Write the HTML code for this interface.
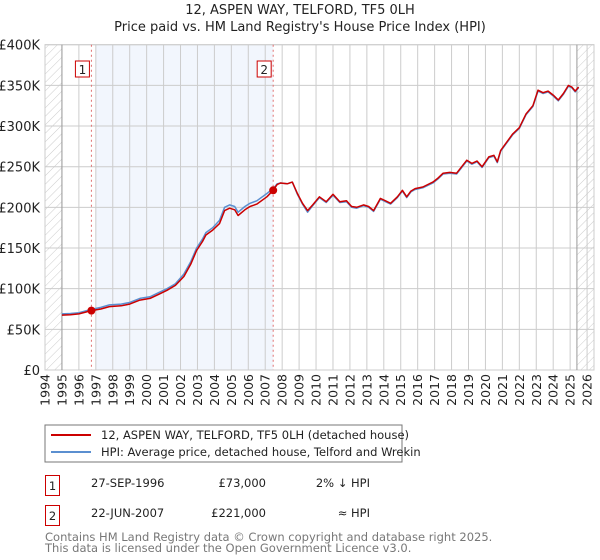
<!DOCTYPE html>
<html><head><meta charset="utf-8"><style>
body{margin:0;background:#fff;font-family:"DejaVu Sans","Liberation Sans",sans-serif;}
svg{display:block}
</style></head><body>
<svg id="c" width="600" height="560" xmlns="http://www.w3.org/2000/svg" font-family="DejaVu Sans, Liberation Sans, sans-serif">
<defs><pattern id="hatch" width="6" height="6" patternUnits="userSpaceOnUse" patternTransform="rotate(45)"><line x1="0" y1="0" x2="0" y2="6" stroke="#ccc" stroke-width="1"/></pattern></defs>
<text x="300" y="14" text-anchor="middle" font-size="13" fill="#222">12, ASPEN WAY, TELFORD, TF5 0LH</text>
<text x="300" y="31" text-anchor="middle" font-size="13" fill="#222">Price paid vs. HM Land Registry's House Price Index (HPI)</text>
<g id="plot"></g>
<g>
<rect x="45" y="425" width="357" height="37" fill="#fff" stroke="#777"/>
<line x1="51" y1="435" x2="91" y2="435" stroke="#cc0000" stroke-width="2"/>
<text x="101" y="439" font-size="11.5" fill="#222">12, ASPEN WAY, TELFORD, TF5 0LH (detached house)</text>
<line x1="51" y1="452" x2="91" y2="452" stroke="#5b8fd0" stroke-width="2"/>
<text x="101" y="456" font-size="11.5" fill="#222">HPI: Average price, detached house, Telford and Wrekin</text>
</g>
<g font-size="11.5" fill="#222">
<rect x="45.5" y="475.5" width="14" height="20" fill="#fff" stroke="#cc0000"/>
<text x="52.5" y="490" text-anchor="middle">1</text>
<text x="91" y="487">27-SEP-1996</text>
<text x="266" y="487" text-anchor="end">£73,000</text>
<text x="370" y="487" text-anchor="end">2% ↓ HPI</text>
<rect x="45.5" y="505.5" width="14" height="20" fill="#fff" stroke="#cc0000"/>
<text x="52.5" y="520" text-anchor="middle">2</text>
<text x="91" y="517">22-JUN-2007</text>
<text x="266" y="517" text-anchor="end">£221,000</text>
<text x="370" y="517" text-anchor="end">≈ HPI</text>
</g>
<text x="45" y="541" font-size="11.5" fill="#777">Contains HM Land Registry data © Crown copyright and database right 2025.</text>
<text x="45" y="552" font-size="11.5" fill="#777">This data is licensed under the Open Government Licence v3.0.</text>
</svg>
<script>
const years=[1995.0,1995.5,1996.0,1996.74,1997.3,1997.8,1998.5,1999.0,1999.6,2000.2,2000.7,2001.2,2001.7,2002.2,2002.6,2002.95,2003.3,2003.5,2003.9,2004.3,2004.6,2004.9,2005.2,2005.4,2005.8,2006.1,2006.5,2007.1,2007.47,2007.7,2007.9,2008.3,2008.6,2008.9,2009.2,2009.5,2009.8,2010.2,2010.6,2011.0,2011.4,2011.8,2012.1,2012.4,2012.8,2013.1,2013.4,2013.8,2014.1,2014.4,2014.8,2015.1,2015.35,2015.6,2015.85,2016.3,2016.9,2017.2,2017.5,2017.9,2018.3,2018.6,2018.9,2019.2,2019.5,2019.8,2020.2,2020.5,2020.7,2020.9,2021.25,2021.6,2022.0,2022.4,2022.8,2023.1,2023.4,2023.7,2024.0,2024.3,2024.6,2024.9,2025.1,2025.3,2025.5];
const priceValues=[67500,68000,69000,73000,75000,78000,79000,81000,86000,88000,93000,98000,104000,115000,130000,147000,158000,166000,172000,180000,196000,199000,197000,190000,197000,201000,204000,213000,221000,228000,230000,229000,231000,217000,205000,196000,203000,213000,207000,216000,207000,208000,201000,200000,203000,201000,196000,211000,208000,205000,213000,221000,213000,220000,223000,225000,231000,236000,242000,243000,242000,250000,258000,254000,257000,250000,262000,264000,256000,270000,280000,290000,298000,315000,325000,344000,341000,343000,338000,332000,340000,350000,348000,343000,348000];
const hpiValues=[69000,69500,70500,74500,77000,80000,81000,83000,88000,90000,95000,100000,106000,118000,133000,150000,161000,169000,175000,184000,200000,203000,201000,194000,201000,205000,208000,217000,223000,229000,230000,229000,231000,216000,204000,194000,202000,212000,206000,215000,206000,207000,200000,199000,202000,200000,195000,210000,207000,204000,212000,220000,212000,219000,222000,224000,230000,235000,241000,242000,241000,249000,257000,253000,256000,249000,261000,263000,255000,269000,279000,289000,297000,314000,324000,343000,340000,342000,337000,331000,339000,349000,347000,342000,347000];
const yTicks=[0,50000,100000,150000,200000,250000,300000,350000,400000];
const yTickLabels=["£0","£50K","£100K","£150K","£200K","£250K","£300K","£350K","£400K"];
const xTicks=[1994,1995,1996,1997,1998,1999,2000,2001,2002,2003,2004,2005,2006,2007,2008,2009,2010,2011,2012,2013,2014,2015,2016,2017,2018,2019,2020,2021,2022,2023,2024,2025,2026];
const saleYears=[1996.74,2007.47];
const salePrices=[73000,221000];
const saleLabels=["1","2"];

const NS="http://www.w3.org/2000/svg";
const g=document.getElementById('plot');
const X0=45,X1=594,Y0=370,Y1=44.7;
const xs=y=>45+(y-1994)*16.94;
const ys=v=>Y0-v/400000*(Y0-Y1);
function mk(t,a){const e=document.createElementNS(NS,t);for(const k in a)e.setAttribute(k,a[k]);g.appendChild(e);return e;}
let e;
e=mk('rect',{x:xs(1997),y:Y1,width:xs(saleYears[1])-xs(1997),height:Y0-Y1,fill:'#f2f6fd'});


e=mk('rect',{x:X0,y:Y1,width:xs(1995)-X0,height:Y0-Y1,fill:'url(#hatch)'});


e=mk('rect',{x:xs(2025.4),y:Y1,width:X1-xs(2025.4),height:Y0-Y1,fill:'url(#hatch)'});


xTicks.forEach(t=>{
  e=mk('line',{x1:xs(t),x2:xs(t),y1:Y1,y2:Y0,stroke:'#ccc','stroke-width':1});
  
  
  const tx=xs(t)+4.5;
  e=mk('text',{x:tx,y:374,'text-anchor':'end','font-size':12.5,fill:'#222',transform:'rotate(-90 '+tx+' 374)'});e.textContent=t;
  
  
});
yTicks.forEach((t,i)=>{
  e=mk('line',{x1:X0,x2:X1,y1:ys(t),y2:ys(t),stroke:'#ccc','stroke-width':1});
  
  
  e=mk('text',{x:40,y:ys(t)+5,'text-anchor':'end','font-size':13,fill:'#222'});e.textContent=yTickLabels[i];
  
  
});
e=mk('rect',{x:X0,y:Y1,width:X1-X0,height:Y0-Y1,fill:'none',stroke:'#ccc'});


e=mk('line',{x1:xs(1995),x2:xs(1995),y1:Y1,y2:Y0,stroke:'#999'});


e=mk('line',{x1:xs(2025.4),x2:xs(2025.4),y1:Y1,y2:Y0,stroke:'#999'});


saleYears.forEach((s,i)=>{
  e=mk('line',{x1:xs(s),x2:xs(s),y1:Y1,y2:Y0,stroke:'#e07070','stroke-dasharray':'2,3'});
  
  
  e=mk('rect',{x:xs(s)-16,y:61,width:14,height:16,fill:'#fff',stroke:'#cc0000'});
  
  
  e=mk('text',{x:xs(s)-9,y:74,'text-anchor':'middle','font-size':12,fill:'#222'});e.textContent=saleLabels[i];
  
  
});
const pts=(vals)=>years.map((y,i)=>xs(y).toFixed(1)+','+ys(vals[i]).toFixed(1)).join(' ');
e=mk('polyline',{points:pts(hpiValues),fill:'none',stroke:'#5b8fd0','stroke-width':1.5,'stroke-linejoin':'round'});


e=mk('polyline',{points:pts(priceValues),fill:'none',stroke:'#cc0000','stroke-width':1.5,'stroke-linejoin':'round'});


saleYears.forEach((s,i)=>{
  e=mk('circle',{cx:xs(s),cy:ys(salePrices[i]),r:4,fill:'#cc0000'});
  
  
});
</script>
</body></html>
